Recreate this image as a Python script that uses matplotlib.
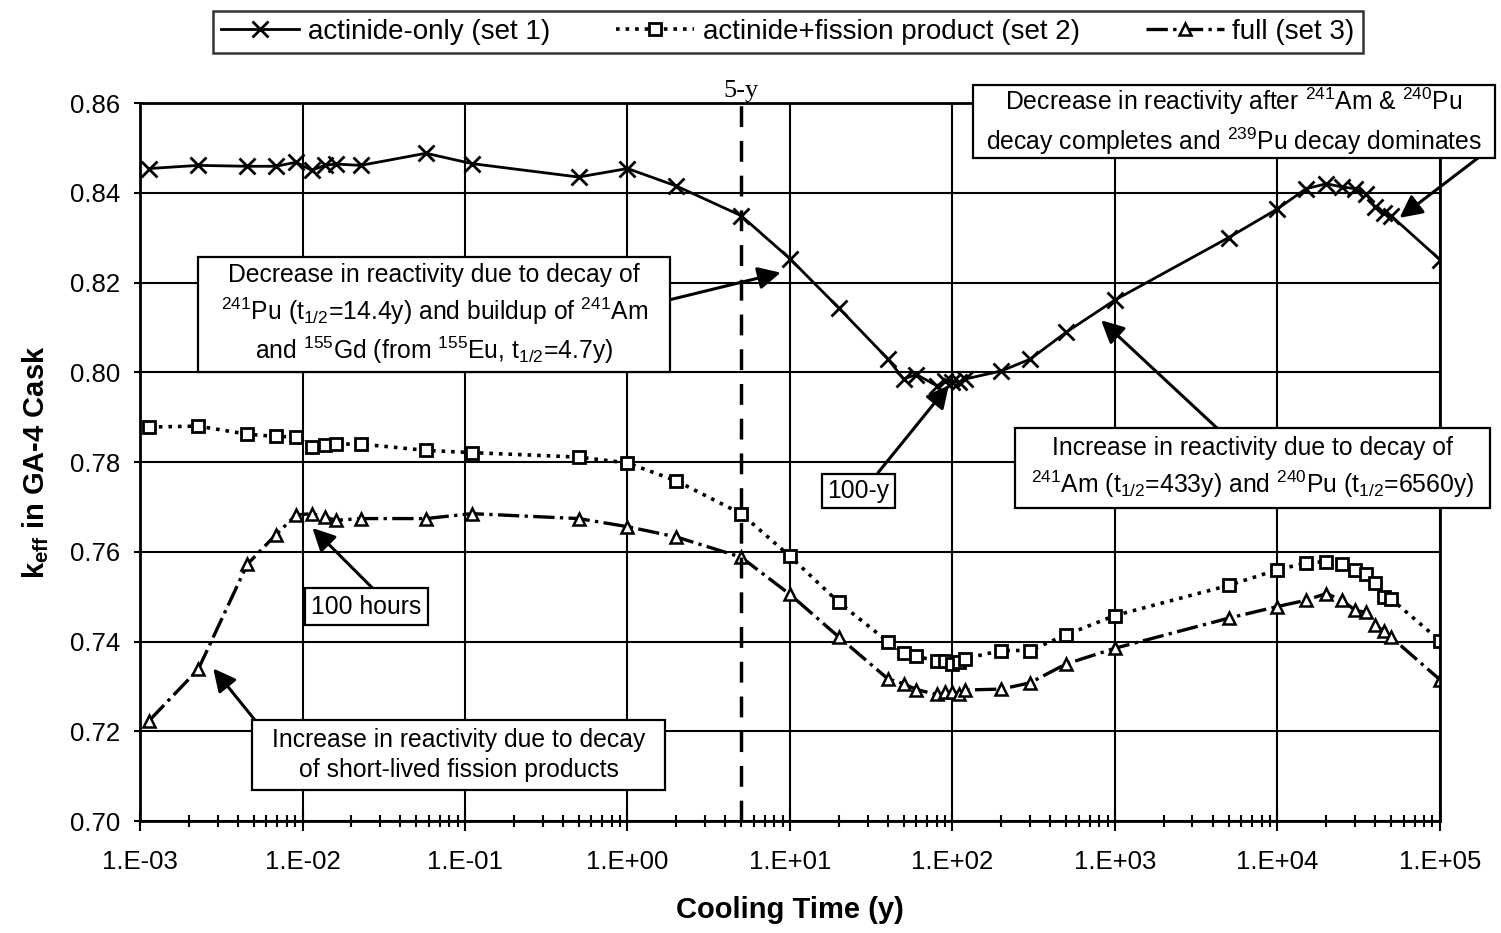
import numpy as np
import matplotlib
matplotlib.use("Agg")
import matplotlib.pyplot as plt
from matplotlib.patches import Rectangle
from matplotlib.ticker import FixedLocator, FuncFormatter, LogLocator, NullFormatter

plt.rcParams['font.family'] = ['Liberation Sans', 'DejaVu Sans']
plt.rcParams['mathtext.default'] = 'regular'

# Cooling time (years) shared by all three nuclide sets
cooling_time = [0.00114, 0.00228, 0.00457, 0.00685, 0.00913, 0.0114, 0.0137, 0.016, 0.0228,
                0.0575, 0.11, 0.5, 1, 2, 5, 10, 20, 40, 50, 60, 80, 90, 100, 110, 120,
                200, 300, 500, 1000, 5000, 10000, 15000, 20000, 25000, 30000, 35000,
                40000, 45000, 50000, 100000]

# k-eff values
keff_set1 = [0.8454, 0.8461, 0.8459, 0.8459, 0.8468, 0.8450, 0.8461, 0.8464, 0.8461,
             0.8488, 0.8465, 0.8435, 0.8454, 0.8415, 0.8349, 0.8253, 0.8143, 0.8030,
             0.7985, 0.7995, 0.7970, 0.7980, 0.7978, 0.7978, 0.7985, 0.8003, 0.8029,
             0.8089, 0.8161, 0.8300, 0.8364, 0.8409, 0.8420, 0.8413, 0.8409, 0.8398,
             0.8368, 0.8356, 0.8349, 0.8251]
keff_set2 = [0.7878, 0.7880, 0.7862, 0.7857, 0.7856, 0.7833, 0.7838, 0.7840, 0.7840,
             0.7826, 0.7821, 0.7811, 0.7798, 0.7758, 0.7685, 0.7590, 0.7487, 0.7400,
             0.7375, 0.7367, 0.7357, 0.7357, 0.7350, 0.7355, 0.7362, 0.7380, 0.7380,
             0.7415, 0.7458, 0.7525, 0.7560, 0.7575, 0.7578, 0.7572, 0.7560, 0.7550,
             0.7530, 0.7500, 0.7495, 0.7402]
keff_set3 = [0.7224, 0.7338, 0.7572, 0.7638, 0.7682, 0.7685, 0.7678, 0.7670, 0.7674,
             0.7674, 0.7685, 0.7674, 0.7656, 0.7633, 0.7588, 0.7505, 0.7410, 0.7317,
             0.7306, 0.7293, 0.7282, 0.7287, 0.7288, 0.7284, 0.7292, 0.7294, 0.7308,
             0.7350, 0.7385, 0.7452, 0.7478, 0.7492, 0.7507, 0.7492, 0.7470, 0.7465,
             0.7436, 0.7424, 0.7410, 0.7315]

labels = ['actinide-only (set 1)', 'actinide+fission product (set 2)', 'full (set 3)']
y_ticks = [0.70, 0.72, 0.74, 0.76, 0.78, 0.80, 0.82, 0.84, 0.86]
x_decades = [1e-3, 1e-2, 1e-1, 1e0, 1e1, 1e2, 1e3, 1e4, 1e5]

fig = plt.figure(figsize=(15.01, 9.33), dpi=100)
ax = fig.add_axes([0.0933, 0.12, 0.866, 0.7696])

ax.plot(cooling_time, keff_set1, '-', color='black', lw=2, marker='x', ms=12, mew=2,
        label=labels[0])
ax.plot(cooling_time, keff_set2, ':', color='black', lw=2.6, marker='s', ms=8,
        mfc='white', mec='black', mew=2, label=labels[1])
ax.plot(cooling_time, keff_set3, '-.', color='black', lw=2.4, marker='^', ms=9,
        mfc='white', mec='black', mew=1.8, label=labels[2])

ax.set_xscale('log')
ax.set_xlim(1e-3, 1e5)
ax.set_ylim(0.70, 0.86)
ax.xaxis.set_major_locator(FixedLocator(x_decades))
ax.xaxis.set_major_formatter(FuncFormatter(lambda v, p: '1.E%+03d' % int(round(np.log10(v)))))
ax.xaxis.set_minor_locator(LogLocator(base=10, subs=np.arange(2, 10), numticks=20))
ax.xaxis.set_minor_formatter(NullFormatter())
ax.set_yticks(y_ticks)
ax.yaxis.set_major_formatter(FuncFormatter(lambda v, p: '%.2f' % v))
ax.tick_params(axis='x', which='major', direction='inout', length=14, width=1.5,
               labelsize=18.5, pad=14)
ax.tick_params(axis='x', which='minor', direction='inout', length=9, width=1.5)
ax.tick_params(axis='y', which='major', direction='out', length=4, width=1.5,
               labelsize=18.5, pad=10)
ax.grid(True, which='major', color='black', lw=1.5)
for s in ax.spines.values():
    s.set_linewidth(2)

ax.set_xlabel('Cooling Time (y)', fontsize=21, fontweight='bold', labelpad=16)
ax.set_ylabel(r'k$_{eff}$ in GA-4 Cask', fontsize=21, fontweight='bold', labelpad=14)

# 5-year marker
ax.axvline(5, color='black', lw=2.5, ls=(0, (6, 4)))
ax.text(5, 0.8603, '5-y', ha='center', va='bottom', fontsize=19,
        family=['Liberation Serif', 'DejaVu Serif'])

arrow = dict(arrowstyle='-|>', color='black', lw=2.2, mutation_scale=34,
             shrinkA=0, shrinkB=0)

# annotation boxes: text, (x0, y0, x1, y1) in axes fraction
notes = [
    ('Decrease in reactivity after $^{241}$Am & $^{240}$Pu\n'
     'decay completes and $^{239}$Pu decay dominates', (0.6408, 0.9234, 1.0423, 1.0251)),
    ('Decrease in reactivity due to decay of\n'
     '$^{241}$Pu (t$_{1/2}$=14.4y) and buildup of $^{241}$Am\n'
     'and $^{155}$Gd (from $^{155}$Eu, t$_{1/2}$=4.7y)', (0.0446, 0.6253, 0.4077, 0.7855)),
    ('Increase in reactivity due to decay of\n'
     '$^{241}$Am (t$_{1/2}$=433y) and $^{240}$Pu (t$_{1/2}$=6560y)', (0.6731, 0.4359, 1.0385, 0.5474)),
    ('100-y', (0.5246, 0.4359, 0.5808, 0.4833)),
    ('100 hours', (0.1269, 0.2730, 0.2215, 0.3245)),
    ('Increase in reactivity due to decay\nof short-lived fission products', (0.0862, 0.0432, 0.4038, 0.1407)),
]
arrows = [
    ((2.0e5, 0.8496), (5.64e4, 0.8344)),
    ((1.84, 0.8162), (8.77, 0.8222)),
    ((4385, 0.7871), (822, 0.8116)),
    ((34.8, 0.7776), (95, 0.7971)),
    ((0.0268, 0.752), (0.0115, 0.7653)),
    ((0.00512, 0.7224), (0.00282, 0.734)),
]
for tail, head in arrows:
    ax.annotate('', xy=head, xytext=tail, xycoords='data', textcoords='data',
                arrowprops=arrow, annotation_clip=False, zorder=5)
for txt, (x0, y0, x1, y1) in notes:
    ax.add_patch(Rectangle((x0, y0), x1 - x0, y1 - y0, transform=ax.transAxes,
                           fc='white', ec='black', lw=1.6, clip_on=False, zorder=6))
    ax.text((x0 + x1) / 2, (y0 + y1) / 2, txt, transform=ax.transAxes, ha='center',
            va='center', fontsize=17.8, linespacing=1.35, zorder=7)

leg = fig.legend(loc='center', bbox_to_anchor=(788 / 1501, 1 - 32 / 933), ncol=3,
                 fontsize=20, frameon=True, fancybox=False, handlelength=2.8,
                 columnspacing=2.4, handletextpad=0.3, borderpad=0.3)
leg.get_frame().set_edgecolor('black')
leg.get_frame().set_linewidth(1.8)

fig.savefig('out.png', dpi=100)
